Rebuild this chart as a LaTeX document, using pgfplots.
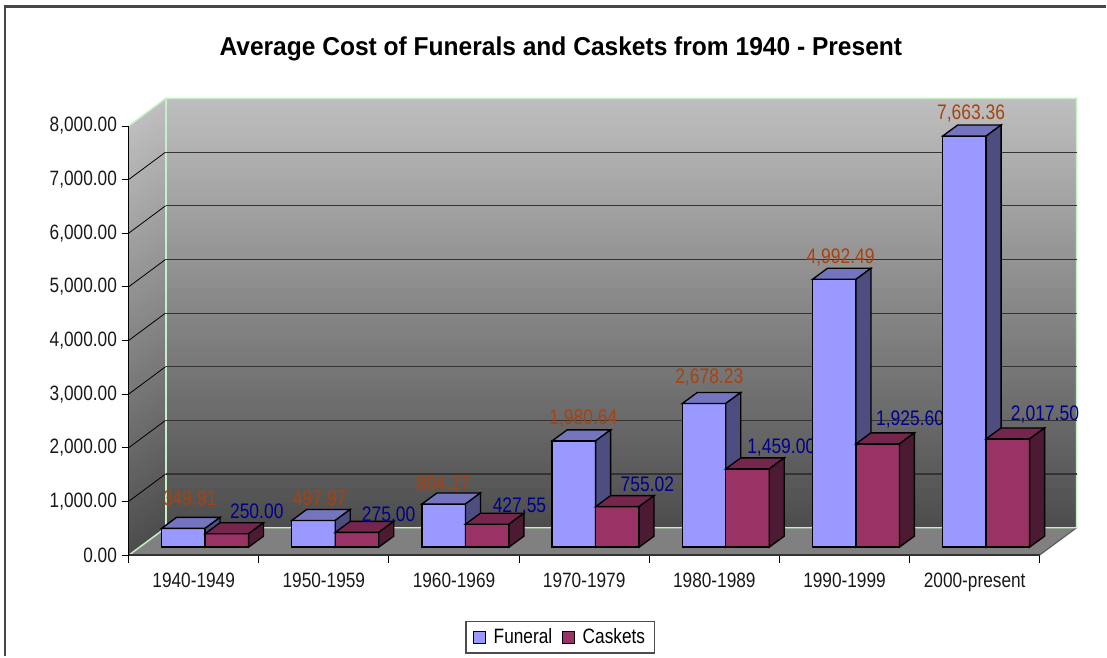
\documentclass[border=0pt]{standalone}
\usepackage{fontspec}
\setmainfont{Liberation Sans}[FakeStretch=0.83]
\newfontfamily\titlefont{Liberation Sans}[FakeStretch=0.95,BoldFeatures={FakeStretch=0.95}]
\usepackage{pgfplots}
\pgfplotsset{compat=1.18}
\definecolor{fF}{HTML}{9999FF}\definecolor{tF}{HTML}{7575BF}\definecolor{sF}{HTML}{4D4D7F}
\definecolor{fC}{HTML}{993366}\definecolor{tC}{HTML}{75264D}\definecolor{sC}{HTML}{4D1A33}
\definecolor{wallTop}{HTML}{BEBEBE}\definecolor{wallBot}{HTML}{4D4D4D}
\definecolor{edgeG}{HTML}{C6EFC6}
\definecolor{lblF}{HTML}{A8420E}\definecolor{lblC}{HTML}{000090}
% one 3D bar: left edge of the front face (category units), value, colour prefix
\newcommand\tdbar[3]{%
  \pgfmathsetmacro\xa{#1+0.005}\pgfmathsetmacro\xb{#1+0.339}%
  \pgfmathsetmacro\xc{#1+0.454}\pgfmathsetmacro\xd{#1+0.120}%
  \pgfmathsetmacro\yb{149}\pgfmathsetmacro\yt{149+#2}%
  \pgfmathsetmacro\ybb{354}\pgfmathsetmacro\ytb{354+#2}%
  \addplot[draw=black,line width=1pt,fill=f#3,line join=miter] coordinates {(\xa,\yb)(\xb,\yb)(\xb,\yt)(\xa,\yt)} --cycle;
  \addplot[draw=black,line width=1pt,fill=t#3,line join=miter] coordinates {(\xa,\yt)(\xb,\yt)(\xc,\ytb)(\xd,\ytb)} --cycle;
  \addplot[draw=black,line width=1pt,fill=s#3,line join=miter] coordinates {(\xb,\yb)(\xb,\yt)(\xc,\ytb)(\xc,\ybb)} --cycle;
}
\newcommand\lbl[4]{\node[text=#4,inner sep=0pt,font=\fontsize{15.8}{15.8}\selectfont] at (axis cs:#1,#2) {#3};}
\begin{document}
\begin{tikzpicture}
\path (0,0) rectangle (830.25pt,492.75pt);
\begin{scope}[x=0.75pt,y=-0.75pt,yshift=492.75pt]
  % outer frame, open to the right and below
  \draw[color=black!72,line width=1.7pt] (5,657) -- (5,6.5) -- (1107,6.5);
  % walls
  \foreach \i in {0,...,85}{
    \pgfmathsetmacro\t{100*\i/85}
    \pgfmathsetmacro\ya{98.5+5*\i}\pgfmathsetmacro\yb{104+5*\i}
    \pgfmathsetmacro\yc{126+5*\i}\pgfmathsetmacro\yd{131.5+5*\i}
    \colorlet{cc}{wallBot!\t!wallTop}
    \fill[cc] (166,\ya) rectangle (1077.7,\yb);
    \fill[cc] (129,\yc) -- (166,\ya) -- (166,\yb) -- (129,\yd) -- cycle;
  }
  % floor
  \fill[color=black!50] (129,555.7) -- (166,528.3) -- (1077.7,528.3) -- (1040.6,555.7) -- cycle;
  \draw[color=black!65,line width=0.8pt] (1040.6,555.7) -- (1077.7,528.3);
  % pale green edges of the walls
  \draw[edgeG,line width=1.1pt] (129,126) -- (166,98.5) -- (1077.7,98.5) -- (1077.7,528.3) -- (166,528.3) -- (129,555.7);
  \draw[edgeG,line width=1.1pt] (166,98.5) -- (166,528.3);
\end{scope}
\begin{axis}[
  at={(96.525pt,75.975pt)},anchor=south west,
  scale only axis,width=711.75pt,height=342.9pt,
  xmin=0,xmax=7.283,ymin=0,ymax=8514,clip=false,
  axis line style={draw=none},
  tick align=outside,xtick pos=bottom,ytick pos=left,
  ytick={0,1000,...,8000},
  xtick={0.5,1.5,2.5,3.5,4.5,5.5,6.5},
  xticklabels={1940-1949,1950-1959,1960-1969,1970-1979,1980-1989,1990-1999,2000-present},
  minor xtick={0,1,2,3,4,5,6,7},
  major x tick style={draw=none},
  minor x tick style={black,line width=0.7pt},
  major y tick style={black,line width=0.7pt},
  major tick length=5.25pt,minor tick length=5.6pt,
  xticklabel style={font=\fontsize{15.6}{15.6}\selectfont,yshift=-4.5pt,text=black!90},
  yticklabel style={font=\fontsize{15.6}{15.6}\selectfont,text=black!90},
  y tick label style={/pgf/number format/.cd,fixed,fixed zerofill,precision=2,1000 sep={,},assume math mode=true},
  title={Average Cost of Funerals and Caskets from 1940 - Present},
  every axis title shift=0pt,
  title style={at={(0.456,1.1085)},anchor=center,font=\titlefont\bfseries\fontsize{19.4}{19.4}\selectfont},
  legend style={at={(0.4552,-0.1797)},anchor=center,draw=black!70,line width=1pt,
    legend columns=2,font=\fontsize{15.6}{15.6}\selectfont,inner xsep=5pt,inner ysep=3.5pt,
    /tikz/every even column/.append style={column sep=5pt},
    legend cell align=left},
  legend image code/.code={\draw[#1,line width=0.85pt] (0pt,-4.5pt) rectangle (9.5pt,4.5pt);\path (13pt,0pt);},
]
\addlegendimage{fill=fF,draw=black}\addlegendentry{Funeral}
\addlegendimage{fill=fC,draw=black}\addlegendentry{Caskets}
% axis lines
\addplot[black,line width=0.8pt,forget plot] coordinates {(0,0)(0,8000)};
\addplot[black!80,line width=1.2pt,forget plot] coordinates {(0,0)(7,0)};
% grid lines: side wall, then back wall
\addplot[black,line width=0.6pt,forget plot] coordinates {(0,1000)(0.284,1512)};
\addplot[black,line width=0.6pt,forget plot] coordinates {(0,2000)(0.284,2512)};
\addplot[black,line width=0.6pt,forget plot] coordinates {(0,3000)(0.284,3512)};
\addplot[black,line width=0.6pt,forget plot] coordinates {(0,4000)(0.284,4512)};
\addplot[black,line width=0.6pt,forget plot] coordinates {(0,5000)(0.284,5512)};
\addplot[black,line width=0.6pt,forget plot] coordinates {(0,6000)(0.284,6512)};
\addplot[black,line width=0.6pt,forget plot] coordinates {(0,7000)(0.284,7512)};
\addplot[black!80,line width=0.8pt,forget plot] coordinates {(0.284,1512)(7.283,1512)};
\addplot[black!80,line width=0.8pt,forget plot] coordinates {(0.284,2512)(7.283,2512)};
\addplot[black!80,line width=0.8pt,forget plot] coordinates {(0.284,3512)(7.283,3512)};
\addplot[black!80,line width=0.8pt,forget plot] coordinates {(0.284,4512)(7.283,4512)};
\addplot[black!80,line width=0.8pt,forget plot] coordinates {(0.284,5512)(7.283,5512)};
\addplot[black!80,line width=0.8pt,forget plot] coordinates {(0.284,6512)(7.283,6512)};
\addplot[black!80,line width=0.8pt,forget plot] coordinates {(0.284,7512)(7.283,7512)};
\pgfplotsset{every axis plot/.append style={forget plot}}
% bars, one category after another
\tdbar{0.249}{349.91}{F}\lbl{0.470}{1056}{349.91}{lblF}
\tdbar{0.583}{250.00}{C}\lbl{0.985}{814}{250.00}{lblC}
\tdbar{1.249}{497.97}{F}\lbl{1.468}{1056}{497.97}{lblF}
\tdbar{1.583}{275.00}{C}\lbl{1.998}{758}{275.00}{lblC}
\tdbar{2.249}{804.17}{F}\lbl{2.420}{1335}{804.17}{lblF}
\tdbar{2.583}{427.55}{C}\lbl{3.003}{926}{427.55}{lblC}
\tdbar{3.249}{1980.64}{F}\lbl{3.494}{2546}{1,980.64}{lblF}
\tdbar{3.583}{755.02}{C}\lbl{3.986}{1317}{755.02}{lblC}
\tdbar{4.249}{2678.23}{F}\lbl{4.461}{3309}{2,678.23}{lblF}
\tdbar{4.583}{1459.00}{C}\lbl{5.014}{2006}{1,459.00}{lblC}
\tdbar{5.249}{4992.49}{F}\lbl{5.470}{5544}{4,992.49}{lblF}
\tdbar{5.583}{1925.60}{C}\lbl{6.004}{2527}{1,925.60}{lblC}
\tdbar{6.249}{7663.36}{F}\lbl{6.472}{8225}{7,663.36}{lblF}
\tdbar{6.583}{2017.50}{C}\lbl{7.040}{2620}{2,017.50}{lblC}
\end{axis}
\end{tikzpicture}
\end{document}
